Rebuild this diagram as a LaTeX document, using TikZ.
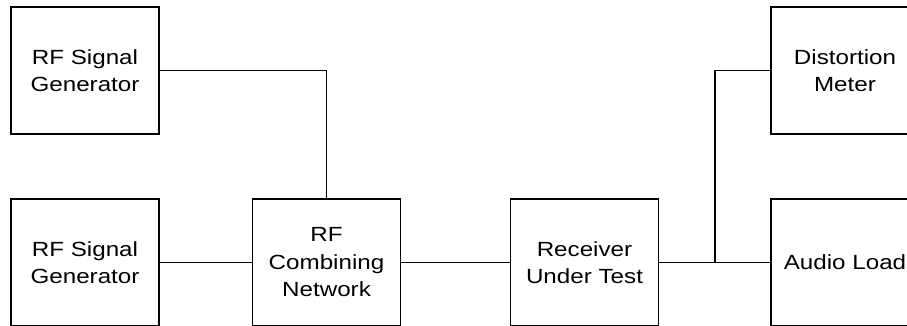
\documentclass[tikz,border=0pt]{standalone}
\usepackage{fontspec}
\setmainfont[FakeStretch=1.18]{Liberation Sans}
\usepackage{tikz}
\usetikzlibrary{calc}
\tikzset{block/.style = {draw, line width=1.9pt, minimum width=148pt, minimum height=127pt,
    align=center, font=\fontsize{20.5pt}{27.5pt}\selectfont, inner sep=0pt}}
\tikzset{wire/.style = {line width=1.9pt}}

\begin{document}
\begin{tikzpicture}[x=1pt,y=-1pt]
  \useasboundingbox (0,0) rectangle (907,326);
  \clip (0,0) rectangle (907,325);
  % top row
  \node[block] (gen1) at (85,70.5) {RF Signal\\Generator};
  \node[block] (meter) at (845,70.5) {Distortion\\Meter};
  % bottom row
  \node[block] (gen2) at (85,262.5) {RF Signal\\Generator};
  \node[block] (comb) at (326.5,262.5) {RF\\Combining\\Network};
  \node[block] (rx) at (584.5,262.5) {Receiver\\Under Test};
  \node[block] (load) at (845,262.5) {Audio Load};
  \coordinate (tap) at (715,262.5);
  % wiring
  \draw[wire] (gen1.east) -| (comb.north);
  \draw[wire] (gen2.east) -- (comb.west);
  \draw[wire] (comb.east) -- (rx.west);
  \draw[wire] (rx.east) -- (load.west);
  \draw[wire] (tap) |- (meter.west);
\end{tikzpicture}
\end{document}
